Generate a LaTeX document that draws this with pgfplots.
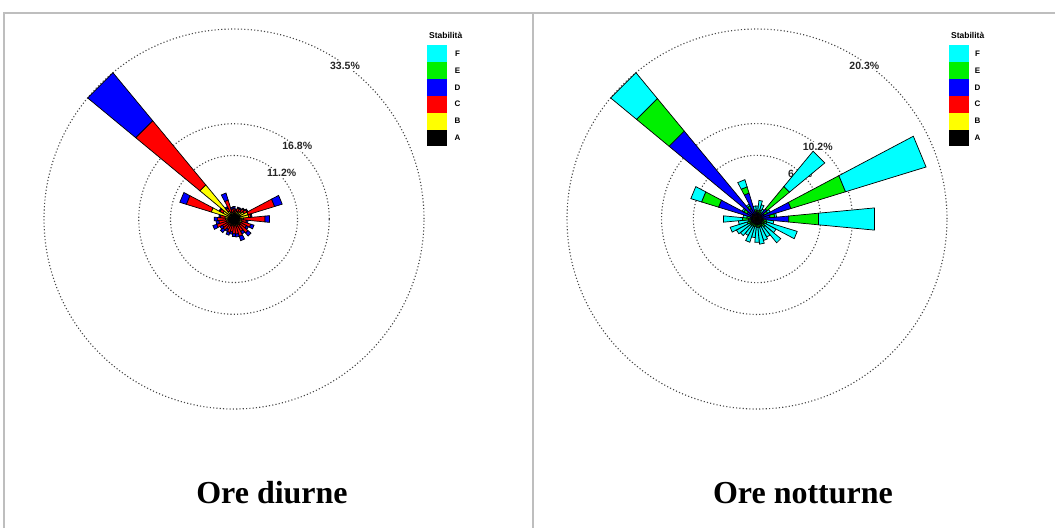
\documentclass[border=0pt]{standalone}
\usepackage{pgfplots}
\pgfplotsset{compat=1.18}
\usepackage{pgfplotstable}
\usepgfplotslibrary{polar}
\usepackage{fontspec}
\setmainfont{Liberation Serif}
\newfontfamily\lsans{Liberation Sans}

\definecolor{cF}{RGB}{0,255,255}
\definecolor{cE}{RGB}{0,240,0}
\definecolor{cD}{RGB}{0,0,255}
\definecolor{cC}{RGB}{255,0,0}
\definecolor{cB}{RGB}{255,255,0}
\definecolor{cA}{RGB}{0,0,0}
\definecolor{framegray}{RGB}{190,190,190}
\definecolor{ring}{RGB}{70,70,70}

% frequencies (%) per direction and stability class -- daytime
\pgfplotstableread{
dir    A   B   C    D
0      1.0 0.3 0.6  0.3
11.25  0.9 0.2 0.5  0.2
22.5   1.0 0.4 0.6  0.2
33.75  1.0 0.5 0.5  0.2
45     1.0 0.7 0.6  0.2
56.25  1.1 0.9 0.6  0.2
67.5   1.2 1.4 4.9  1.4
78.75  1.0 1.6 0.4  0.2
90     1.4 0.3 3.8  0.8
101.25 1.0 0.4 0.8  0.3
112.5  1.1 0.4 1.6  0.6
123.75 1.0 0.3 1.2  0.4
135    1.1 0.3 1.8  0.7
146.25 1.0 0.2 1.3  0.5
157.5  1.1 0.3 1.8  0.8
168.75 1.0 0.2 1.5  0.5
180    1.0 0.2 1.4  0.5
191.25 0.9 0.2 1.2  0.4
202.5  1.0 0.2 1.3  0.5
213.75 0.9 0.2 1.0  0.4
225    1.0 0.3 1.2  0.6
236.25 1.0 0.3 1.0  0.5
247.5  1.1 0.3 1.8  0.7
258.75 1.0 0.3 1.4  0.5
270    1.1 0.4 1.4  0.6
281.25 1.0 0.6 0.8  0.3
292.5  1.0 3.2 4.6  1.2
303.75 1.0 1.2 0.6  0.2
315    0.6 7.2 14.7 11.0
326.25 1.0 0.6 0.6  0.3
337.5  1.0 0.3 2.2  1.3
348.75 0.9 0.3 0.6  0.3
}\diurne

% night-time
\pgfplotstableread{
dir    A   B    C    D    E   F
0      0.3 0.0  0.1  0.3  0.2 0.5
11.25  0.3 0.0  0.1  0.3  0.2 1.1
22.5   0.3 0.0  0.1  0.3  0.3 0.6
33.75  0.3 0.0  0.1  0.2  0.2 0.4
45     0.3 0.0  0.1  1.0  3.1 4.9
56.25  0.3 0.0  0.1  0.5  0.4 0.3
67.5   0.3 0.05 0.15 3.3  6.1 9.0
78.75  0.3 0.0  0.1  1.0  0.5 0.2
90     0.3 0.05 0.15 2.9  3.2 6.0
101.25 0.3 0.0  0.1  0.3  0.3 0.8
112.5  0.3 0.0  0.1  0.3  0.4 3.4
123.75 0.3 0.0  0.1  0.2  0.3 1.4
135    0.3 0.0  0.1  0.3  0.4 2.2
146.25 0.3 0.0  0.1  0.2  0.3 1.3
157.5  0.3 0.0  0.1  0.2  0.3 1.5
168.75 0.3 0.0  0.1  0.2  0.3 1.8
180    0.3 0.0  0.1  0.2  0.3 1.6
191.25 0.3 0.0  0.1  0.2  0.2 1.2
202.5  0.3 0.0  0.1  0.2  0.3 1.7
213.75 0.3 0.0  0.1  0.2  0.2 1.2
225    0.3 0.0  0.1  0.2  0.3 1.4
236.25 0.3 0.0  0.1  0.2  0.3 1.6
247.5  0.3 0.0  0.1  0.3  0.4 1.9
258.75 0.3 0.0  0.1  0.2  0.3 1.1
270    0.3 0.05 0.1  0.5  0.6 2.05
281.25 0.3 0.0  0.1  0.3  0.4 0.4
292.5  0.3 0.1  0.2  3.7  1.9 1.2
303.75 0.3 0.0  0.1  0.8  0.4 0.2
315    0.3 0.1  0.3  11.5 4.5 3.6
326.25 0.3 0.0  0.1  0.9  0.3 0.2
337.5  0.3 0.1  0.1  2.4  0.7 0.8
348.75 0.3 0.0  0.1  0.4  0.2 0.4
}\notturne

\newcommand\startdir[1]{%
  \pgfplotstablegetelem{\i}{dir}\of#1%
  \pgfmathsetmacro\aone{90-\pgfplotsretval-5.4}%
  \pgfmathsetmacro\atwo{90-\pgfplotsretval+5.4}%
  \def\rlo{0}%
}
\newcommand\seg[3]{%
  \pgfplotstablegetelem{\i}{#2}\of#1%
  \let\val\pgfplotsretval
  \pgfmathsetmacro\rhi{\rlo+\val}%
  \ifdim\val pt>0pt
    \edef\temp{\noexpand\addplot[fill=#3,draw=black,line width=0.7pt] coordinates {(\aone,\rlo) (\atwo,\rlo) (\atwo,\rhi) (\aone,\rhi)} -- cycle;}%
    \temp
  \fi
  \let\rlo\rhi
}

\pgfplotsset{rose/.style={
  anchor=center, scale only axis, width=380pt, height=380pt,
  ymin=0, xtick=\empty, yticklabels={}, major tick length=0pt,
  ymajorgrids=true, xmajorgrids=false,
  major grid style={ring, line width=1.1pt, dash pattern=on 1.1pt off 2.2pt},
  axis line style={draw=none}, clip=false,
}}

\begin{document}
\begin{tikzpicture}
\begin{scope}[x=1pt,y=-1pt]
\useasboundingbox (0,0) rectangle (1055,528);
\fill[white] (0,0) rectangle (1055,528);
\draw[framegray, line width=1.5pt] (4,528) -- (4,13) -- (1055,13);
\draw[framegray, line width=1.5pt] (533,13) -- (533,528);
\end{scope}

% ---------- daytime rose
\begin{polaraxis}[rose, at={(234pt,-219pt)}, ymax=33.5, ytick={11.2,16.8,33.5}]
\node[font=\lsans\bfseries\fontsize{10.5}{12}\selectfont, text=black!85, fill=white, inner sep=1pt] at (axis cs:54,33.3) {33.5\%};
\node[font=\lsans\bfseries\fontsize{10.5}{12}\selectfont, text=black!85, fill=white, inner sep=1pt] at (axis cs:49,17.0) {16.8\%};
\node[font=\lsans\bfseries\fontsize{10.5}{12}\selectfont, text=black!85, fill=white, inner sep=1pt] at (axis cs:44,11.7) {11.2\%};
\pgfplotsforeachungrouped \i in {0,...,31}{%
  \startdir\diurne
  \seg\diurne{A}{cA}\seg\diurne{B}{cB}\seg\diurne{C}{cC}\seg\diurne{D}{cD}%
}
\end{polaraxis}

% ---------- night-time rose
\begin{polaraxis}[rose, at={(757pt,-219pt)}, ymax=20.3, ytick={6.8,10.2,20.3}]
\node[font=\lsans\bfseries\fontsize{10.5}{12}\selectfont, text=black!85, fill=white, inner sep=1pt] at (axis cs:55,20.0) {20.3\%};
\node[font=\lsans\bfseries\fontsize{10.5}{12}\selectfont, text=black!85, fill=white, inner sep=1pt] at (axis cs:50,10.1) {10.2\%};
\node[font=\lsans\bfseries\fontsize{10.5}{12}\selectfont, text=black!85, fill=white, inner sep=1pt] at (axis cs:46,6.64) {6.8\%};
\pgfplotsforeachungrouped \i in {0,...,31}{%
  \startdir\notturne
  \seg\notturne{A}{cA}\seg\notturne{B}{cB}\seg\notturne{C}{cC}%
  \seg\notturne{D}{cD}\seg\notturne{E}{cE}\seg\notturne{F}{cF}%
}
\end{polaraxis}

\begin{scope}[x=1pt,y=-1pt]
% ---------- legends
\foreach \bx/\tx in {427/457.5, 949/977.5}{
  \node[font=\lsans\bfseries\fontsize{8.5}{9}\selectfont, anchor=west, inner sep=0pt] at (\bx+2,35.5) {Stabilità};
  \foreach \c/\lab [count=\n from 0] in {cF/F,cE/E,cD/D,cC/C,cB/B,cA/A}{
    \fill[\c] (\bx,45+\n*16.9) rectangle (\bx+20,45+\n*16.9+16.9);
    \node[font=\lsans\bfseries\fontsize{8}{9}\selectfont, inner sep=0pt] at (\tx,53.5+\n*16.9) {\lab};
  }
}
% ---------- captions
\node[font=\bfseries\fontsize{32}{36}\selectfont, anchor=base] at (272,503) {Ore diurne};
\node[font=\bfseries\fontsize{32}{36}\selectfont, anchor=base] at (803,503) {Ore notturne};
\end{scope}
\end{tikzpicture}
\end{document}
